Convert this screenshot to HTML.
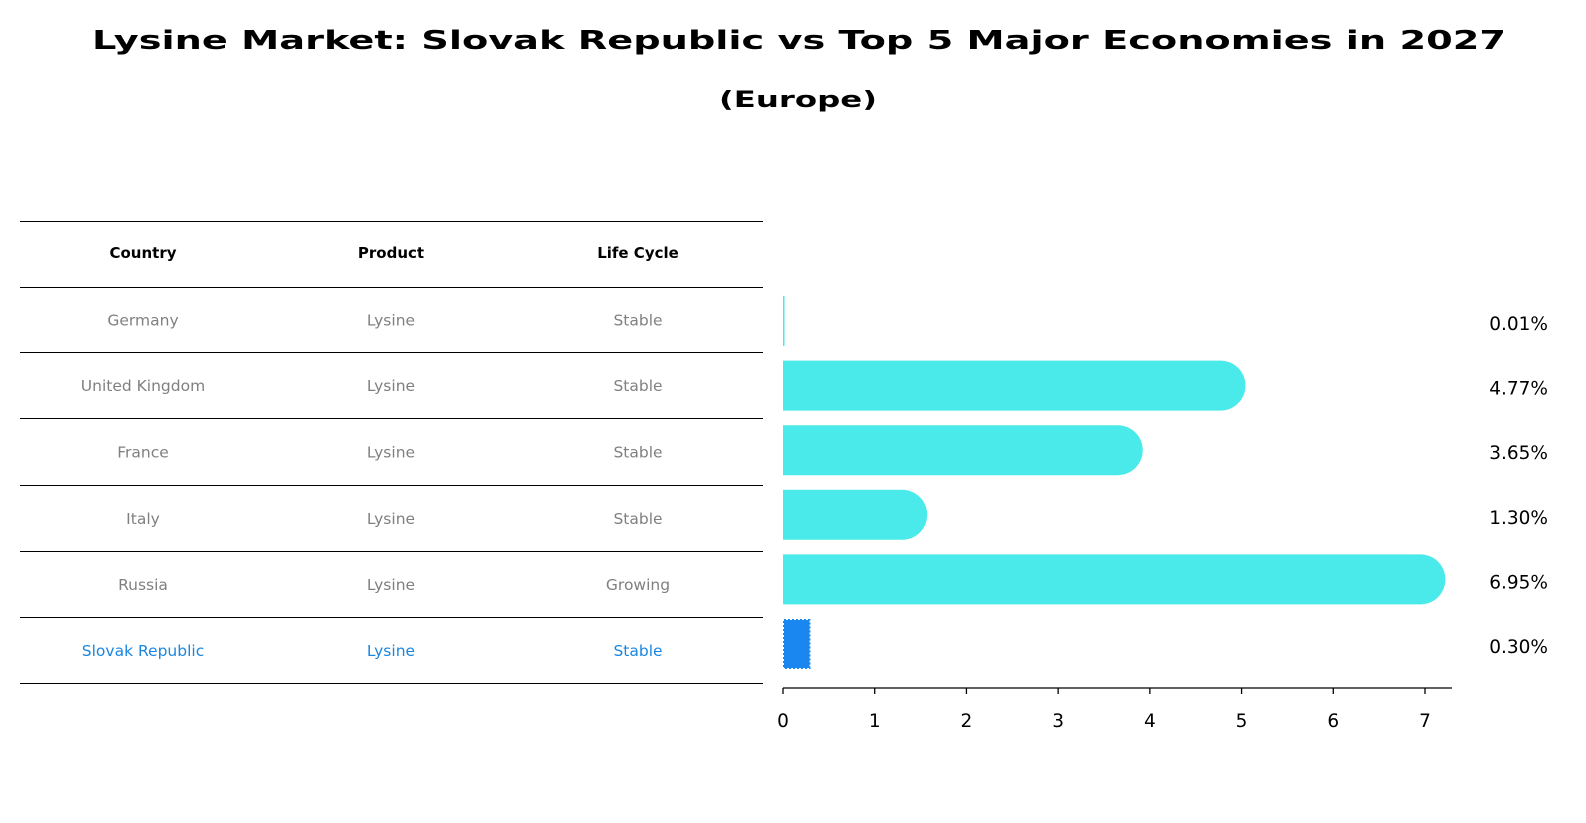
<!DOCTYPE html>
<html><head><meta charset="utf-8"><style>
body{margin:0;width:1586px;height:823px;background:#fff;font-family:"DejaVu Sans","Liberation Sans",sans-serif;position:relative;overflow:hidden}
</style></head><body>
<svg id="c" width="1586" height="823" style="position:absolute;left:0;top:0">
<text x="799" y="49" text-anchor="middle" font-size="26" font-weight="bold" textLength="1414" lengthAdjust="spacingAndGlyphs">Lysine Market: Slovak Republic vs Top 5 Major Economies in 2027</text>
<text x="798" y="107" text-anchor="middle" font-size="22" font-weight="bold" textLength="158" lengthAdjust="spacingAndGlyphs">(Europe)</text>
</svg>
<script>
const countries=["Germany","United Kingdom","France","Italy","Russia","Slovak Republic"];
const products=["Lysine","Lysine","Lysine","Lysine","Lysine","Lysine"];
const cycles=["Stable","Stable","Stable","Stable","Growing","Stable"];
const values=[0.01,4.77,3.65,1.30,6.95,0.30];
const labels=["0.01%","4.77%","3.65%","1.30%","6.95%","0.30%"];
const ticks=[0,1,2,3,4,5,6,7];
const NS="http://www.w3.org/2000/svg";
const svg=document.getElementById('c');
function mk(t,a,txt){const e=document.createElementNS(NS,t);for(const k in a)e.setAttribute(k,a[k]);if(txt!==undefined)e.textContent=txt;svg.appendChild(e);return e;}
const x0=783,ux=(1425-783)/7;
const xs=v=>x0+v*ux;
const rowY=i=>321+i*64.6;
const lineYs=[221,287,352,418,485,551,617,683];
lineYs.forEach(y=>{const l=mk('line',{x1:20,x2:763,y1:y+0.5,y2:y+0.5,stroke:'#000','stroke-width':1});

});
const colX=[143,391,638];
["Country","Product","Life Cycle"].forEach((h,j)=>{const t=mk('text',{x:colX[j],y:258,'text-anchor':'middle','font-size':15,'font-weight':'bold'},h);

});
countries.forEach((c,i)=>{
 const y=(lineYs[i+1]+lineYs[i+2])/2+6;
 const col=i===5?'#1a86e0':'#808080';
 [c,products[i],cycles[i]].forEach((v,j)=>{const t=mk('text',{x:colX[j],y:y,'text-anchor':'middle','font-size':15.5,fill:col},v);
 
 });
 const cy=rowY(i),h=50,w=xs(values[i])-x0;
 let b;
 if(i===5){
  b=mk('rect',{x:x0+1,y:cy-h/2+1,width:w-2,height:h-2,fill:'#1a86f0',stroke:'#1a86f0','stroke-width':2,'stroke-dasharray':'2 2'});
 } else if(w<2){
  b=mk('rect',{x:x0,y:cy-h/2,width:Math.max(w,1.5),height:h,fill:'#4aeaea'});
 } else {
  b=mk('path',{d:`M${x0} ${cy-h/2}H${x0+w}A${h/2} ${h/2} 0 0 1 ${x0+w} ${cy+h/2}H${x0}Z`,fill:'#4aeaea'});
 }
 
 
 const t=mk('text',{x:1548,y:cy+9,'text-anchor':'end','font-size':18.5},labels[i]);
 
 
});
const ax=mk('line',{x1:x0,x2:1452,y1:688,y2:688,stroke:'#000','stroke-width':1.3});


ticks.forEach(v=>{
 const tl=mk('line',{x1:xs(v),x2:xs(v),y1:688,y2:694,stroke:'#000','stroke-width':1.3});
 
 
 const t=mk('text',{x:xs(v),y:727,'text-anchor':'middle','font-size':18.5},String(v));
 
 
});
</script>
</body></html>
